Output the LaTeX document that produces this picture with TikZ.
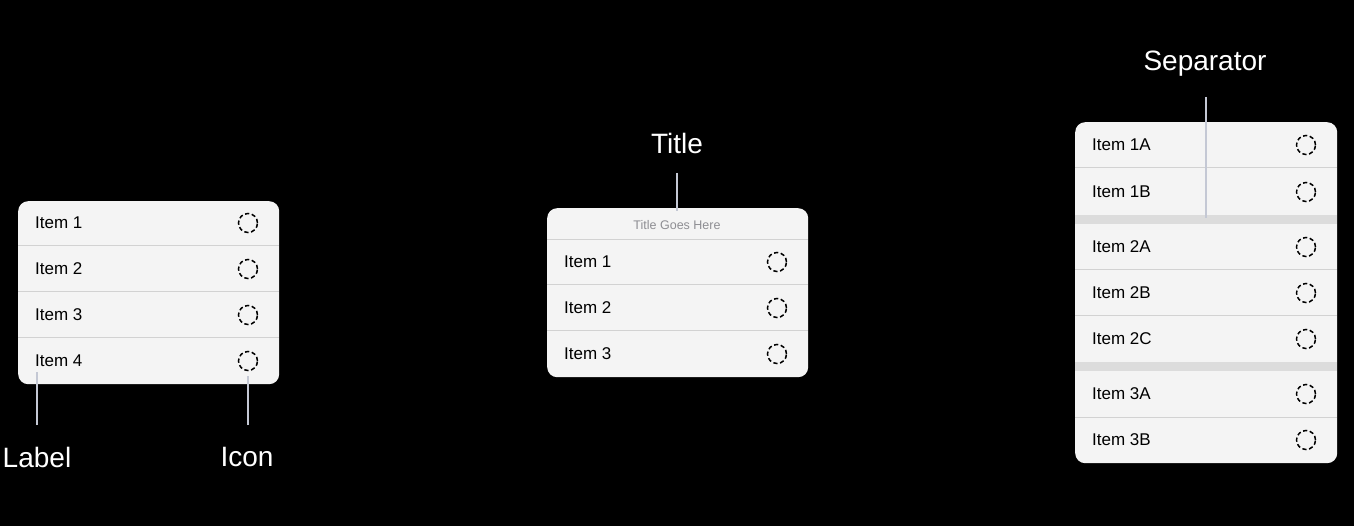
\documentclass[tikz,border=0pt]{standalone}
\usepackage{fontspec}
\setmainfont{Liberation Sans}
\definecolor{panelbg}{HTML}{F4F4F4}
\definecolor{sepgray}{HTML}{D2D2D2}
\definecolor{bandgray}{HTML}{DCDCDC}
\definecolor{leadergray}{HTML}{C4C8D4}
\definecolor{titlegray}{HTML}{8E8E93}
\tikzset{
  panel/.style={fill=panelbg, draw=none, rounded corners=10pt, inner sep=0, anchor=north west},
  sepline/.style={draw=sepgray, line width=1pt},
  band/.style={fill=bandgray, draw=none},
  itemtext/.style={anchor=west, font=\fontsize{17}{20}\selectfont, text=black, inner sep=0},
  titletext/.style={font=\fontsize{12.5}{15}\selectfont, text=titlegray, inner sep=0},
  icon/.style={circle, draw=black, dash pattern=on 4.2pt off 2.6pt, minimum size=19pt, inner sep=0, line width=1.5pt},
  callout/.style={font=\fontsize{28}{32}\selectfont, text=white, inner sep=0},
  leader/.style={draw=leadergray, line width=2pt},
}
\begin{document}
\begin{tikzpicture}[x=1pt,y=-1pt]
\fill[black] (0,0) rectangle (1354,526);
\useasboundingbox (0,0) rectangle (1354,526);

% ---------- Panel 1 ----------
\node[panel, minimum width=261pt, minimum height=183pt] (p1) at (18,201) {};
\foreach \y in {246,292,338} \draw[sepline] (18,\y) -- (279,\y);
\foreach \n/\y in {1/223,2/269,3/315,4/361} {
  \node[itemtext] (p1t\n) at (35,\y) {Item \n};
  \node[icon] (p1i\n) at (248,\y) {};
}
\coordinate (lblIn) at (37,372);
\coordinate (icoIn) at (248,376);
\node[callout] (lbl) at (37,457) {Label};
\node[callout] (ico) at (247,457) {Icon};
\coordinate (lblOut) at (37,425);
\coordinate (icoOut) at (248,425);
\draw[leader] (lblOut) -- (lblIn);
\draw[leader] (icoOut) -- (icoIn);

% ---------- Panel 2 ----------
\node[panel, minimum width=261pt, minimum height=169pt] (p2) at (547,208) {};
\foreach \y in {240,285,331} \draw[sepline] (547,\y) -- (808,\y);
\node[titletext] (p2title) at (677,225) {Title Goes Here};
\foreach \n/\y in {1/262,2/308,3/354} {
  \node[itemtext] (p2t\n) at (564,\y) {Item \n};
  \node[icon] (p2i\n) at (777,\y) {};
}
\node[callout] (ttl) at (677,143) {Title};
\coordinate (ttlOut) at (677,173);
\coordinate (ttlIn) at (677,211);
\draw[leader] (ttlOut) -- (ttlIn);

% ---------- Panel 3 ----------
\node[panel, minimum width=262pt, minimum height=341pt] (p3) at (1075,122) {};
\fill[band] (1075,215) rectangle (1337,224);
\fill[band] (1075,362) rectangle (1337,371);
\foreach \y in {168,270,316,417} \draw[sepline] (1075,\y) -- (1337,\y);
\foreach \lab/\y in {1A/145,1B/192,2A/247,2B/293,2C/339,3A/394,3B/440} {
  \node[itemtext] (p3t\lab) at (1092,\y) {Item \lab};
  \node[icon] (p3i\lab) at (1306,\y) {};
}
\node[callout] (sepl) at (1205,64) {Separator};
\coordinate (sepOut) at (1206,97);
\coordinate (sepIn) at (1206,218);
\draw[leader] (sepOut) -- (sepIn);
\end{tikzpicture}
\end{document}
